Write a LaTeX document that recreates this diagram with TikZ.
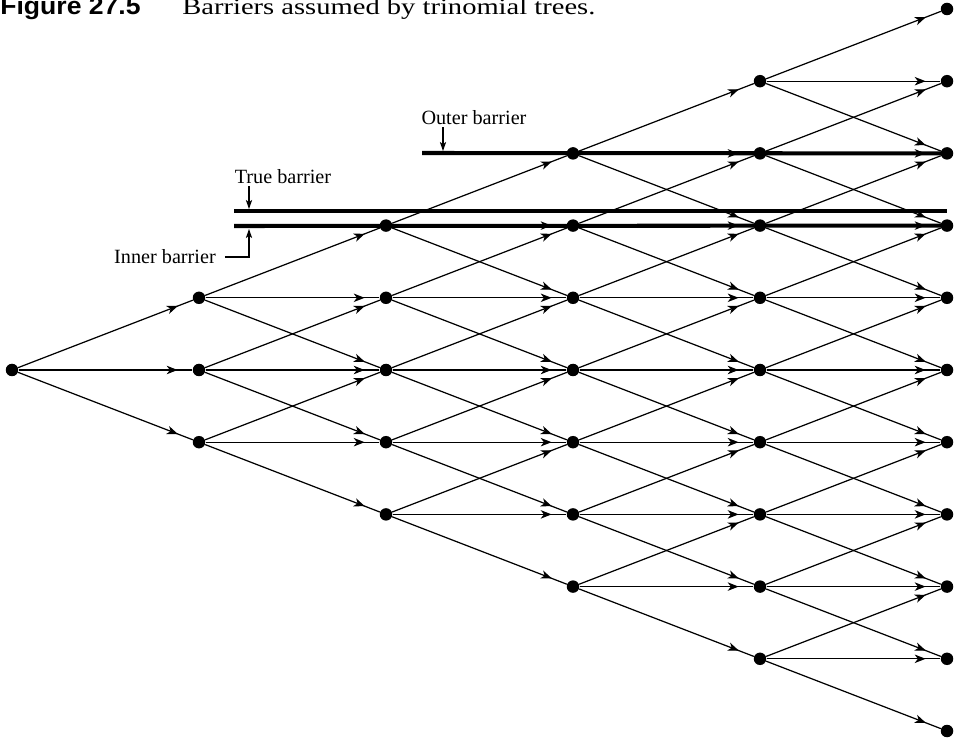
\documentclass[tikz,border=0pt]{standalone}
\usepackage{fontspec}
\setmainfont{Liberation Serif}
\newfontfamily\fignumfont[FakeStretch=1.08]{Liberation Sans}
\newfontfamily\capfont[FakeStretch=1.25]{Liberation Serif}
\usetikzlibrary{arrows.meta,decorations.markings}

\begin{document}
\begin{tikzpicture}[
  x=0.02cm, y=0.02cm,
  >=Stealth,
  font=\fontsize{11.5}{13}\selectfont,
  dot/.style={circle, fill=black, inner sep=0pt, minimum size=0.25cm},
  branch/.style={line width=0.7pt, postaction={decorate},
    decoration={markings, mark=at position 0.915 with
      {\arrow{Stealth[length=6.2pt, width=4.8pt, inset=1.8pt]}}}},
  barrier/.style={line width=2.3pt},
  pointer/.style={-{Stealth[length=5.2pt, width=3.6pt, inset=1.4pt]}, line width=0.6pt},
  label/.style={inner sep=1pt}
]
\useasboundingbox (0,0) rectangle (957,741);

% caption line
\node[anchor=base west, inner sep=0pt] (fignum) at (0,726)
  {\fignumfont\bfseries\fontsize{14}{16}\selectfont Figure 27.5};
\node[anchor=base west, inner sep=0pt] (caption) at (182,726)
  {\capfont\fontsize{13}{15}\selectfont Barriers assumed by trinomial trees.};

% tree nodes
\foreach \i in {0,...,5}
  \foreach \j in {-\i,...,\i}
    \node[dot] (n\i\j) at ({12+187*\i},{371+72.2*\j}) {};

% barriers
\coordinate (outstart) at (422,588);
\coordinate (truestart) at (234,530);
\coordinate (trueend) at (947,530);
\coordinate (innstart) at (234,515);
\draw[barrier] (outstart) -- (n53.center);
\draw[barrier] (truestart) -- (trueend);
\draw[barrier] (innstart) -- (n52.center);

% branches
\foreach \i [evaluate=\i as \k using int(\i+1)] in {0,...,4}
  \foreach \j in {-\i,...,\i}
    \foreach \d in {-1,0,1} {
      \pgfmathtruncatemacro\m{\j+\d}
      \draw[branch] (n\i\j) -- (n\k\m);
    }

% barrier labels
\node[label] (outlbl) at (474,623) {Outer barrier};
\coordinate (outtip) at (443,590);
\draw[pointer] (outtip |- outlbl.south) -- (outtip);

\node[label] (truelbl) at (283,564) {True barrier};
\coordinate (truetip) at (249,532);
\draw[pointer] (truetip |- truelbl.south) -- (truetip);

\node[label] (innlbl) at (165,484) {Inner barrier};
\coordinate (inntip) at (249,512);
\coordinate (innbend) at (249,484);
\draw[pointer] ([xshift=4pt]innlbl.east) -- (innbend) -- (inntip);
\end{tikzpicture}
\end{document}
